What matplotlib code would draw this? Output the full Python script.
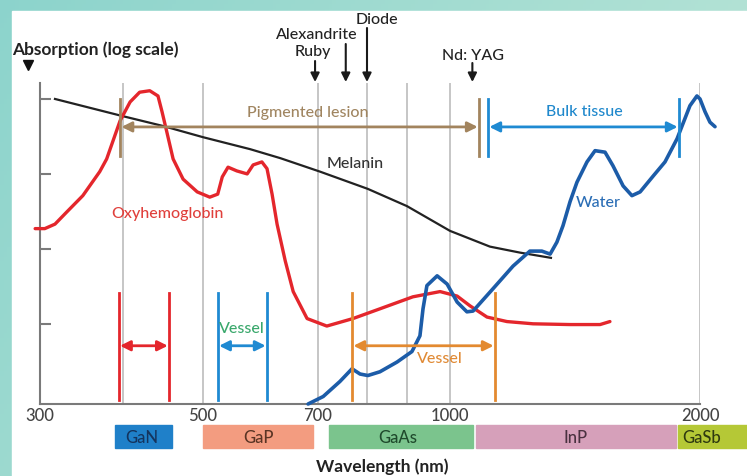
import numpy as np
import matplotlib.pyplot as plt

plt.rcParams['font.family'] = ['Lato', 'DejaVu Sans']
plt.rcParams['font.weight'] = 'medium'

# absorption curves: wavelength (nm) and absorption in decades (log scale)
melanin_nm = [316, 400, 447, 500, 574, 627, 704, 802, 900, 1000, 1117, 1214, 1323]
melanin_abs = [4.0, 3.77, 3.64, 3.49, 3.33, 3.21, 3.03, 2.8, 2.57, 2.24, 2.03, 1.95, 1.88]

oxy_nm = [295, 305, 316, 329, 348, 369, 378, 396, 408, 419, 431, 441, 446, 452, 460,
          473, 492, 510, 522, 529, 538, 552, 569, 579, 594, 603, 612, 621, 636, 651,
          678, 717, 770, 831, 913, 976, 1020, 1057, 1108, 1171, 1259, 1395, 1516, 1558]
oxy_abs = [2.27, 2.27, 2.33, 2.49, 2.71, 3.03, 3.2, 3.71, 3.96, 4.09, 4.11, 4.04, 3.83, 3.56, 3.2,
           2.93, 2.76, 2.69, 2.73, 2.96, 3.09, 3.04, 3.0, 3.12, 3.16, 3.07, 2.73, 2.33, 1.84, 1.43,
           1.07, 0.97, 1.07, 1.2, 1.36, 1.43, 1.37, 1.24, 1.09, 1.03, 1.0, 0.99, 0.99, 1.03]

water_nm = [680, 710, 743, 768, 785, 802, 831, 874, 911, 929, 936, 945, 969, 993, 1020,
            1048, 1066, 1127, 1191, 1248, 1290, 1320, 1345, 1368, 1395, 1422, 1462, 1495,
            1537, 1571, 1616, 1656, 1694, 1756, 1815, 1877, 1945, 1983, 2000, 2028, 2056, 2085]
water_abs = [-0.07, 0.03, 0.23, 0.4, 0.33, 0.31, 0.36, 0.49, 0.63, 0.84, 1.2, 1.51, 1.64, 1.53, 1.29,
             1.16, 1.17, 1.47, 1.77, 1.97, 1.97, 1.93, 2.09, 2.31, 2.63, 2.89, 3.16, 3.31,
             3.29, 3.11, 2.84, 2.71, 2.76, 2.97, 3.16, 3.47, 3.91, 4.04, 4.0, 3.83, 3.69, 3.63]

# treatment windows (nm)
gan_window = (394, 455)
vessel_green = (522, 603)
vessel_orange = (768, 1133)
pigmented = (396, 1084)
bulk = (1111, 1887)

# lasers
laser_names = ['Ruby', 'Alexandrite', 'Diode', 'Nd: YAG']
laser_nm = [694, 755, 800, 1064]

# LED semiconductor bands
band_names = ['GaN', 'GaP', 'GaAs', 'InP', 'GaSb']
band_start = [389, 500, 721, 1075, 1882]
band_end = [458, 690, 1066, 1871, 2279]

xticks = [300, 500, 700, 1000, 2000]
grid_nm = [400, 500, 700, 800, 900, 1000, 2000]

W, H = 747, 477

def fx(px):
    return px / W

def fy(py):
    return 1 - py / H

# piecewise log wavelength axis as drawn in the original figure
sc_l = np.log10([300, 400, 500, 700, 800, 900, 1000, 2000])
sc_p = np.array([0, 83, 163, 278, 327, 367, 410, 660], float)
s_lo = (sc_p[1] - sc_p[0]) / (sc_l[1] - sc_l[0])
s_hi = (sc_p[-1] - sc_p[-2]) / (sc_l[-1] - sc_l[-2])

def fwd(x):
    lx = np.log10(np.clip(np.asarray(x, float), 1e-6, None))
    out = np.interp(lx, sc_l, sc_p)
    out = np.where(lx < sc_l[0], sc_p[0] + (lx - sc_l[0]) * s_lo, out)
    out = np.where(lx > sc_l[-1], sc_p[-1] + (lx - sc_l[-1]) * s_hi, out)
    return out

def inv(p):
    p = np.asarray(p, float)
    lx = np.interp(p, sc_p, sc_l)
    lx = np.where(p < sc_p[0], sc_l[0] + (p - sc_p[0]) / s_lo, lx)
    lx = np.where(p > sc_p[-1], sc_l[-1] + (p - sc_p[-1]) / s_hi, lx)
    return 10 ** lx

fig = plt.figure(figsize=(W / 100, H / 100), dpi=100)

# teal frame
bg = fig.add_axes([0, 0, 1, 1], zorder=-10)
gx = np.linspace(0, 1, 200)[None, :, None]
gy = np.linspace(0, 1, 100)[:, None, None]
c0 = np.array([0.55, 0.83, 0.80])
c1 = np.array([0.76, 0.91, 0.85])
img = c0 + (c1 - c0) * (0.7 * gx + 0.3 * (1 - gy))
bg.imshow(np.clip(img, 0, 1), extent=[0, 1, 0, 1], aspect='auto', origin='lower')
bg.add_patch(plt.Rectangle((fx(12), 0), 1, fy(12), color='white'))
bg.set_xlim(0, 1)
bg.set_ylim(0, 1)
bg.axis('off')

ax = fig.add_axes([fx(40), fy(405), fx(700) - fx(40), fy(84) - fy(405)])
ax.set_facecolor('none')
ax.set_xscale('function', functions=(fwd, inv))
ax.set_xlim(300, 2000)
ax.set_ylim(-0.07, 4.213)

for g in grid_nm:
    ax.axvline(g, color='#bcbcbc', lw=1.2, zorder=0)

ax.plot(melanin_nm, melanin_abs, color='#222222', lw=1.6, clip_on=False, zorder=3)
ax.plot(oxy_nm, oxy_abs, color='#e4262c', lw=2.4, clip_on=False, zorder=3,
        solid_joinstyle='round', solid_capstyle='round')
ax.plot(water_nm, water_abs, color='#1c5ca8', lw=2.6, clip_on=False, zorder=4,
        solid_joinstyle='round', solid_capstyle='round')

def window(rng, y0, y1, ya, color):
    for x in rng:
        ax.plot([x, x], [y0, y1], color=color, lw=2, zorder=5, clip_on=False)
    ax.annotate('', xy=(rng[1], ya), xytext=(rng[0], ya),
                arrowprops=dict(arrowstyle='<|-|>', color=color, lw=2,
                                mutation_scale=15, shrinkA=1, shrinkB=1), zorder=5)

window(gan_window, -0.013, 1.413, 0.707, '#e4262c')
window(vessel_green, -0.013, 1.413, 0.707, '#1f8ad2')
window(vessel_orange, -0.013, 1.413, 0.707, '#e38a30')
window(pigmented, 3.24, 4.0, 3.627, '#a2845e')
window(bulk, 3.24, 4.0, 3.627, '#1f8ad2')

for name, nm in zip(laser_names, laser_nm):
    top = {'Ruby': 62, 'Alexandrite': 45, 'Diode': 29, 'Nd: YAG': 64}[name]
    ax.annotate('', xy=(nm, H - 83), xytext=(nm, H - top),
                xycoords=('data', 'figure pixels'),
                arrowprops=dict(arrowstyle='-|>', color='#1a1a1a', lw=1.5,
                                mutation_scale=13, shrinkA=0, shrinkB=0))

# semiconductor bands below the axis
for name, a, b in zip(band_names, band_start, band_end):
    col, tcol = {'GaN': ('#1f80c9', '#14345e'), 'GaP': ('#f39c80', '#5a3424'),
                 'GaAs': ('#7bc48d', '#1f4a2c'), 'InP': ('#d6a0ba', '#4a3140'),
                 'GaSb': ('#b5c836', '#2f3a10')}[name]
    ax.add_patch(plt.Rectangle((a, -0.065), b - a, -0.072,
                               transform=ax.get_xaxis_transform(),
                               color=col, clip_on=False))
    ax.text(np.sqrt(a * min(b, 2150)), -0.102, name, transform=ax.get_xaxis_transform(),
            ha='center', va='center', fontsize=12, color=tcol)

for s in ['top', 'right']:
    ax.spines[s].set_visible(False)
for s in ['left', 'bottom']:
    ax.spines[s].set_color('#7a7a7a')
    ax.spines[s].set_linewidth(1.5)

ax.set_yticks([1, 2, 3, 4])
ax.set_yticklabels([])
ax.tick_params(axis='y', direction='in', length=8, width=1.5, color='#7a7a7a')
ax.set_xticks(xticks)
ax.set_xticklabels([str(t) for t in xticks])
ax.xaxis.set_minor_locator(plt.NullLocator())
ax.tick_params(axis='x', length=0, pad=2, labelsize=12, labelcolor='#444444')

fig.text(fx(12), fy(50), 'Absorption (log scale)', fontsize=12.5, fontweight='bold',
         color='#222222', ha='left', va='center')
ax.plot([fx(28)], [fy(66)], marker='v', color='#111111', ms=7,
        transform=fig.transFigure, clip_on=False)
fig.text(fx(382), fy(467), 'Wavelength (nm)', fontsize=12.5, fontweight='bold',
         color='#222222', ha='center', va='center')

fig.text(fx(377), fy(20), 'Diode', fontsize=11.5, color='#222222', ha='center', va='center')
fig.text(fx(317), fy(35), 'Alexandrite', fontsize=11.5, color='#222222', ha='center', va='center')
fig.text(fx(313), fy(52), 'Ruby', fontsize=11.5, color='#222222', ha='center', va='center')
fig.text(fx(473), fy(56), 'Nd: YAG', fontsize=11.5, color='#222222', ha='center', va='center')

fig.text(fx(355), fy(164), 'Melanin', fontsize=11.5, color='#333333', ha='center', va='center')
fig.text(fx(167), fy(214), 'Oxyhemoglobin', fontsize=11.5, color='#e0403c', ha='center', va='center')
fig.text(fx(598), fy(203), 'Water', fontsize=11.5, color='#2a6db5', ha='center', va='center')
fig.text(fx(308), fy(113), 'Pigmented lesion', fontsize=11.5, color='#a08560', ha='center', va='center')
fig.text(fx(584), fy(112), 'Bulk tissue', fontsize=11.5, color='#1f88cc', ha='center', va='center')
fig.text(fx(242), fy(329), 'Vessel', fontsize=11.5, color='#3aa86c', ha='center', va='center')
fig.text(fx(440), fy(359), 'Vessel', fontsize=11.5, color='#e08a35', ha='center', va='center')

fig.savefig('out.png', dpi=100)
